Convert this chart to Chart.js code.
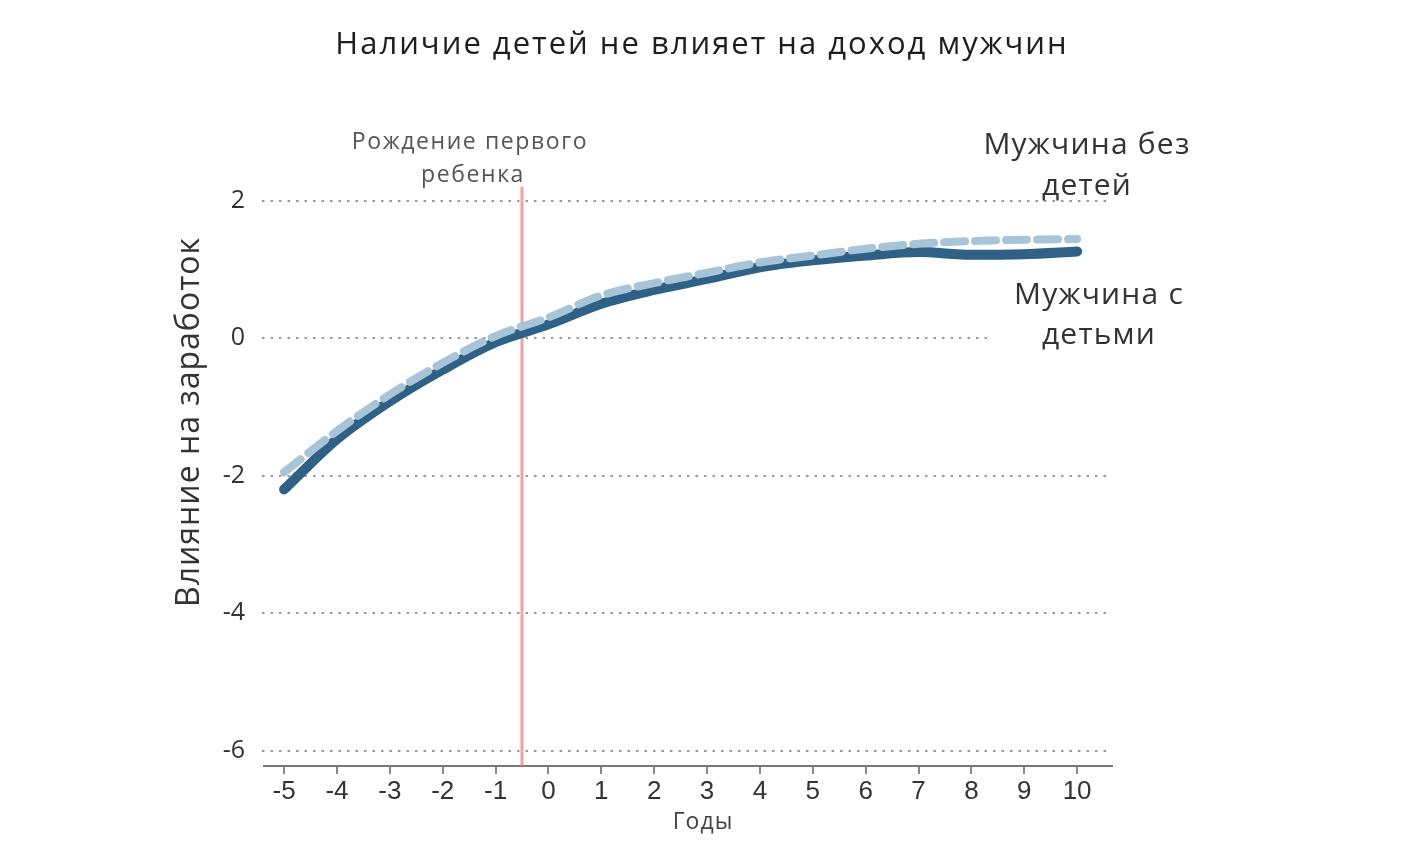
<!DOCTYPE html>
<html lang="ru">
<head>
<meta charset="utf-8">
<title>Наличие детей не влияет на доход мужчин</title>
<script src="https://cdn.jsdelivr.net/npm/chart.js@4/dist/chart.umd.min.js"></script>
<style>
  html, body { margin: 0; padding: 0; background: #fff; }
  #wrap { width: 1405px; height: 843px; position: relative; }
</style>
</head>
<body>
<div id="wrap"><canvas id="chart"></canvas></div>
<script>
/* ---- Données ---- */
const years        = [-5, -4, -3, -2, -1, 0, 1, 2, 3, 4, 5, 6, 7, 8, 9, 10];
const withKids     = [-2.2, -1.47, -0.92, -0.46, -0.06, 0.2, 0.5, 0.7, 0.86, 1.03, 1.13, 1.2, 1.25, 1.21, 1.22, 1.26];
const withoutKids  = [-1.95, -1.35, -0.82, -0.36, 0.03, 0.3, 0.62, 0.8, 0.95, 1.1, 1.2, 1.3, 1.37, 1.41, 1.43, 1.44];
const yTicks       = [2, 0, -2, -4, -6];
const birthYear    = -0.5;
const birthSpan    = [-6.22, 2.2];

const titleText    = 'Наличие детей не влияет на доход мужчин';
const yTitleText   = 'Влияние на заработок';
const xTitleText   = 'Годы';
const birthLabel   = ['Рождение первого', 'ребенка'];
const noKidsLabel  = ['Мужчина без', 'детей'];
const kidsLabel    = ['Мужчина с', 'детьми'];

const toPoints = vals => years.map((x, i) => ({ x, y: vals[i] }));

/* Lignes de grille pointillées (la ligne 0 s'arrête avant l'étiquette) */
const dottedGrid = {
  id: 'dottedGrid',
  beforeDatasetsDraw(chart) {
    const { ctx, chartArea, scales: { x, y } } = chart;
    ctx.save();
    ctx.strokeStyle = '#9a9a9a';
    ctx.lineWidth = 2;
    ctx.setLineDash([2.5, 6]);
    yTicks.forEach(v => {
      const py = Math.round(y.getPixelForValue(v));
      const end = v === 0 ? x.getPixelForValue(8.3) : chartArea.right - 2;
      ctx.beginPath();
      ctx.moveTo(chartArea.left - 2, py);
      ctx.lineTo(end, py);
      ctx.stroke();
    });
    ctx.restore();
  },
};

/* Textes libres : titre, titres d'axes, annotations */
function text(ctx, str, x, y, font, color, spacing) {
  ctx.font = font;
  ctx.fillStyle = color;
  ctx.letterSpacing = (spacing || 0) + 'px';
  ctx.fillText(str, x, y);
}

const labels = {
  id: 'labels',
  afterDraw(chart) {
    const { ctx, scales: { x } } = chart;
    ctx.save();
    ctx.textAlign = 'center';
    ctx.textBaseline = 'middle';

    text(ctx, titleText, 702, 45, '500 31px "Open Sans"', '#1e1e1e', 2);
    text(ctx, xTitleText, 703, 822, '23px "Open Sans"', '#444', 1);

    const bx = x.getPixelForValue(birthYear);
    text(ctx, birthLabel[0], bx - 52, 142, '23px "Open Sans"', '#555', 1.6);
    text(ctx, birthLabel[1], bx - 49, 175, '23px "Open Sans"', '#555', 1.6);

    text(ctx, noKidsLabel[0], 1087, 145, '30px "Open Sans"', '#333', 1.2);
    text(ctx, noKidsLabel[1], 1087, 186, '30px "Open Sans"', '#333', 1.2);
    text(ctx, kidsLabel[0], 1099, 295, '30px "Open Sans"', '#333', 1.2);
    text(ctx, kidsLabel[1], 1099, 335, '30px "Open Sans"', '#333', 1.2);

    ctx.translate(190, 422);
    ctx.rotate(-Math.PI / 2);
    text(ctx, yTitleText, 0, 0, '32px "Open Sans"', '#333', 1);
    ctx.restore();
  },
};

const canvas = document.getElementById('chart');
canvas.width = 1405;
canvas.height = 843;

new Chart(canvas, {
  type: 'line',
  data: {
    datasets: [
      {
        data:        toPoints(withoutKids),
        borderColor: '#a8c4d9',
        borderWidth: 8,
        borderDash:  [21, 10],
        borderCapStyle: 'round',
        pointRadius: 0,
        cubicInterpolationMode: 'monotone',
        order: 1,
      },
      {
        data:        toPoints(withKids),
        borderColor: '#2f6085',
        borderWidth: 10,
        borderCapStyle: 'round',
        borderJoinStyle: 'round',
        pointRadius: 0,
        cubicInterpolationMode: 'monotone',
        order: 2,
      },
      {
        data:        birthSpan.map(v => ({ x: birthYear, y: v })),
        borderColor: 'rgba(236,120,120,0.7)',
        borderWidth: 3,
        pointRadius: 0,
        order: 3,
      },
    ],
  },
  options: {
    responsive: false,
    animation:  false,
    layout: { padding: { left: 160, right: 293, top: 173, bottom: 37 } },
    plugins: {
      legend:  { display: false },
      tooltip: { enabled: false },
    },
    scales: {
      x: {
        type: 'linear',
        min: -5.38,
        max: 10.66,
        afterBuildTicks: s => { s.ticks = years.map(v => ({ value: v })); },
        afterFit: s => { s.height = 40; },
        border: { display: true, color: '#777', width: 2 },
        grid: {
          drawOnChartArea: false,
          drawTicks: true,
          tickLength: 8,
          color: '#888',
          lineWidth: 2,
        },
        ticks: {
          color: '#333',
          padding: 2,
          maxRotation: 0,
          font: { family: '"Liberation Sans", Arial, sans-serif', size: 26 },
        },
      },
      y: {
        type: 'linear',
        min: -6.22,
        max: 2.4,
        afterBuildTicks: s => { s.ticks = yTicks.map(v => ({ value: v })); },
        afterFit: s => { s.width = 104; },
        border: { display: false },
        grid: { display: false },
        ticks: {
          color: '#333',
          padding: 11,
          font: { family: '"Open Sans"', size: 25 },
        },
      },
    },
  },
  plugins: [dottedGrid, labels],
});
</script>
</body>
</html>
